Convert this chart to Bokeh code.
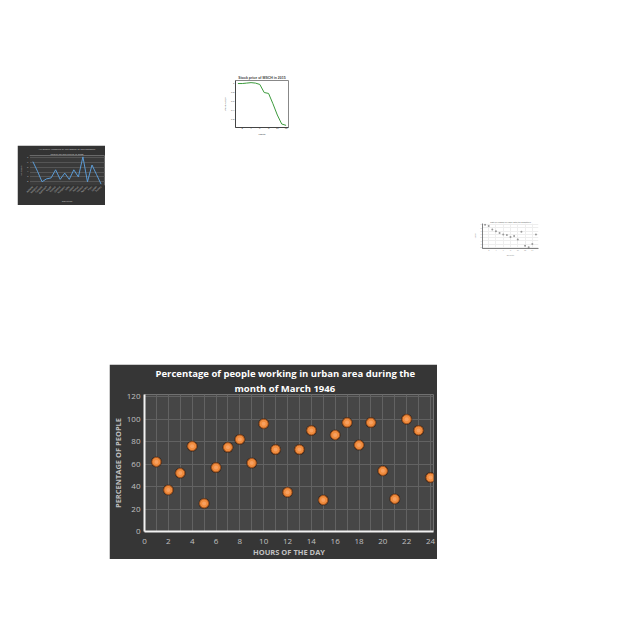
from bokeh.plotting import figure
from bokeh.layouts import column, row
from bokeh.models import Spacer, Title, FixedTicker
from bokeh.embed import file_html
from bokeh.resources import INLINE

# ---- main chart data ----
hours = list(range(1, 25))
pct = [62, 37, 52, 76, 25, 57, 75, 82, 61, 96, 73, 35,
       73, 90, 28, 86, 97, 77, 97, 54, 29, 100, 90, 48]
x_ticks = [0, 2, 4, 6, 8, 10, 12, 14, 16, 18, 20, 22, 24]
y_ticks = [0, 20, 40, 60, 80, 100, 120]

# ---- thumbnail data ----
stock_months = list(range(1, 13))
stock_price = [1.00, 1.00, 1.01, 1.02, 1.01, 0.98, 0.80, 0.78, 0.55, 0.30, 0.10, 0.07]

air_idx = list(range(1, 17))
air_vals = [6.2, 4.2, 2.0, 2.6, 2.8, 4.5, 2.5, 3.8, 2.5, 4.5, 3.0, 7.2, 2.0, 5.5, 3.5, 1.5]
air_labels = ["Albania", "Belgium", "Canada", "Denmark", "Egypt", "France", "Greece", "Hungary",
              "India", "Japan", "Kenya", "Mexico", "Norway", "Peru", "Spain", "Turkey"]

sc_x = [1, 2, 3, 4, 5, 6, 7, 8, 9, 10, 11, 12, 13, 14, 15]
sc_y = [9.0, 8.6, 7.5, 7.0, 6.4, 6.0, 5.8, 5.2, 5.5, 4.4, 6.8, 2.5, 2.0, 3.0, 6.0]


def tiny(p, fs="3px", col="#444444"):
    for ax in (p.xaxis, p.yaxis):
        ax.major_label_text_font_size = fs
        ax.axis_label_text_font_size = fs
        ax.major_label_text_color = col
        ax.axis_label_text_color = col
        ax.major_tick_out = 0
        ax.major_tick_in = 0
        ax.minor_tick_line_color = None
        ax.minor_tick_out = 0
        ax.axis_label_standoff = 1
        ax.major_label_standoff = 1
        ax.axis_line_width = 0.5


def two_line_title(p, l1, l2, fs, col, bold=False, font="Open Sans",
                   align="center", off1=0, off2=0):
    style = "bold" if bold else "normal"
    p.add_layout(Title(text=l2, text_font_size=fs, text_color=col, text_font_style=style,
                       align=align, text_font=font, standoff=0, offset=off2), "above")
    p.add_layout(Title(text=l1, text_font_size=fs, text_color=col, text_font_style=style,
                       align=align, text_font=font, standoff=0, offset=off1), "above")
    p.title.text_font_size = "0px"
    p.title.standoff = 0


# Thumbnail 1: stock price
t1 = figure(width=68, height=66, output_backend="svg", toolbar_location=None,
            min_border=1)
t1.title.text = "Stock price of MSCH in 2015"
t1.title.text_font_size = "3.5px"
t1.title.align = "center"
t1.title.text_font_style = "bold"
t1.title.standoff = 1
t1.line(stock_months, stock_price, line_color="#3c9a3c", line_width=1)
t1.xaxis.axis_label = "Month"
t1.yaxis.axis_label = "Price (USD)"
tiny(t1, fs="2.5px")
t1.xgrid.grid_line_color = None
t1.ygrid.grid_line_color = None
t1.outline_line_color = "#888888"

# Thumbnail 2: air quality (dark)
t2 = figure(width=88, height=60, output_backend="svg", toolbar_location=None,
            min_border=1, background_fill_color="#3a3a3a", border_fill_color="#333333")
two_line_title(t2, "Air quality Measure at the lowest of environment",
               "health hazard status in 2008", "2.5px", "#cccccc")
t2.line(air_idx, air_vals, line_color="#5b9bd5", line_width=1)
t2.xaxis.axis_label = "Countries"
t2.yaxis.axis_label = "Air quality"
t2.xaxis.ticker = FixedTicker(ticks=air_idx)
t2.xaxis.major_label_overrides = {i: n for i, n in zip(air_idx, air_labels)}
tiny(t2, fs="2.5px", col="#bbbbbb")
t2.xaxis.major_label_orientation = 0.8
t2.xgrid.grid_line_color = None
t2.ygrid.grid_line_color = "#555555"
t2.outline_line_color = None

# Thumbnail 3: light scatter
t3 = figure(width=68, height=40, output_backend="svg", toolbar_location=None,
            min_border=1)
t3.title.text = "Rate of change of value with the quantities"
t3.title.text_font_size = "2px"
t3.title.text_color = "#888888"
t3.title.align = "center"
t3.title.standoff = 0
t3.scatter(sc_x, sc_y, size=2, fill_color="#999999", line_color=None)
t3.xaxis.axis_label = "Quantity"
t3.yaxis.axis_label = "Value"
tiny(t3, fs="2px", col="#999999")
t3.xgrid.grid_line_color = "#eeeeee"
t3.ygrid.grid_line_color = "#eeeeee"
t3.outline_line_color = None

# ---- main chart ----
p = figure(width=328, height=195, output_backend="svg", toolbar_location=None,
           x_range=(0, 24.25), y_range=(0, 122),
           background_fill_color="#464646", border_fill_color="#363636",
           min_border_left=33, min_border_right=4, min_border_top=0, min_border_bottom=27)
two_line_title(p, "Percentage of people working in urban area during the",
               "month of March 1946", "9.5px", "#ffffff", bold=True,
               align="left", off1=11, off2=90)
p.outline_line_color = None

p.xgrid.grid_line_color = "#626262"
p.ygrid.grid_line_color = "#626262"
p.xgrid.ticker = FixedTicker(ticks=hours)
p.xaxis.ticker = FixedTicker(ticks=x_ticks)
p.yaxis.ticker = FixedTicker(ticks=y_ticks)
p.ygrid.ticker = FixedTicker(ticks=y_ticks)

for ax in (p.xaxis, p.yaxis):
    ax.axis_line_color = "#f2f2f2"
    ax.axis_line_width = 2
    ax.major_tick_line_color = None
    ax.minor_tick_line_color = None
    ax.major_tick_out = 0
    ax.major_tick_in = 0
    ax.minor_tick_out = 0
    ax.major_label_text_color = "#c0c0c0"
    ax.major_label_text_font_size = "8px"
    ax.major_label_text_font = "Open Sans"
    ax.axis_label_text_color = "#c0c0c0"
    ax.axis_label_text_font_size = "7.5px"
    ax.axis_label_text_font_style = "bold"
    ax.axis_label_text_font = "Open Sans"
p.yaxis.major_label_standoff = 4
p.yaxis.axis_label_standoff = 1
p.xaxis.major_label_standoff = 7
p.xaxis.axis_label_standoff = 0
p.xaxis.axis_label = "HOURS OF THE DAY"
p.yaxis.axis_label = "PERCENTAGE OF PEOPLE"

p.scatter(hours, pct, size=11, fill_color="#2a1a10", line_color=None, fill_alpha=0.7)
p.scatter(hours, pct, size=9, fill_color="#f08c3e", line_color="#a8541c", line_width=1)
p.scatter(hours, pct, size=4, fill_color="#f7a060", line_color=None)

layout = column(
    Spacer(height=73),
    row(Spacer(width=221), t1),
    Spacer(height=6),
    row(Spacer(width=17), t2),
    Spacer(height=14),
    row(Spacer(width=471), t3),
    Spacer(height=105),
    row(Spacer(width=109), p),
)

open("out.html", "w").write(file_html(layout, INLINE))
